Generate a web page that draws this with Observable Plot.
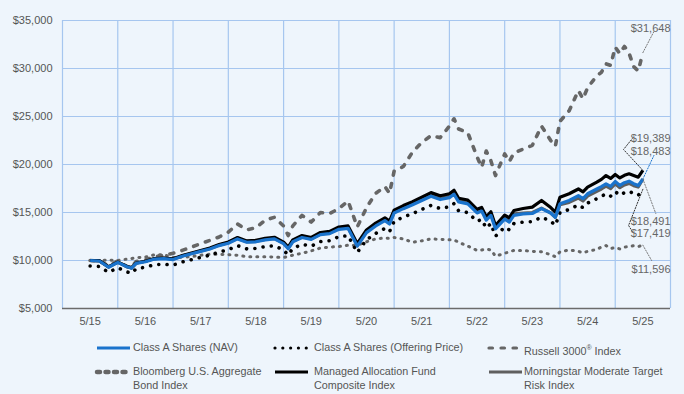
<!DOCTYPE html>
<html>
<head>
<meta charset="utf-8">
<script src="https://cdn.jsdelivr.net/npm/d3@7"></script>
<script src="https://cdn.jsdelivr.net/npm/@observablehq/plot@0.6"></script>
<style>
  html, body { margin: 0; padding: 0; background: #eef5fc; }
  body { width: 684px; height: 394px; overflow: hidden; font-family: "Liberation Sans", Arial, sans-serif; }
  #chart { position: relative; width: 684px; }
  #legend { position: relative; width: 684px; height: 58px; color: #555; font-size: 10.8px; }
  .item { position: absolute; line-height: 13.5px; }
  .sw { position: absolute; }
</style>
</head>
<body>
<div id="chart"></div>
<div id="legend"></div>
<script>
// ---- Data ----
const dates = ["2015-05","2015-07","2015-09","2015-11","2016-01","2016-02","2016-03","2016-05","2016-07","2016-09","2016-11","2017-01","2017-03","2017-05","2017-07","2017-09","2017-11","2018-01","2018-03","2018-05","2018-07","2018-09","2018-11","2018-12","2019-01","2019-03","2019-05","2019-07","2019-09","2019-11","2020-01","2020-03","2020-05","2020-07","2020-09","2020-10","2020-11","2021-01","2021-03","2021-05","2021-07","2021-09","2021-11","2021-12","2022-01","2022-03","2022-05","2022-06","2022-07","2022-08","2022-09","2022-11","2022-12","2023-01","2023-03","2023-05","2023-07","2023-09","2023-10","2023-11","2024-01","2024-03","2024-04","2024-05","2024-07","2024-08","2024-09","2024-10","2024-11","2024-12","2025-01","2025-02","2025-03","2025-04","2025-05"];

const classANav = [10000,9950,9300,9800,9350,9200,9700,9870,10150,10200,10100,10450,10700,10950,11200,11550,11800,12250,11900,11950,12150,12250,11750,11220,11950,12400,12200,12700,12800,13250,13350,11500,12900,13600,14150,13800,14950,15400,15800,16250,16700,16350,16550,16900,16100,15900,14950,15150,14200,14700,13300,14300,14000,14700,14850,14900,15400,14950,14500,15900,16250,16750,16450,16950,17450,17700,17990,17730,18230,17820,18100,18260,18000,17810,18483];

const classAOffer = [9425,9378,8765,9237,8812,8671,9142,9302,9566,9614,9519,9849,10085,10320,10556,10886,11122,11546,11216,11263,11451,11546,11074,10575,11263,11687,11499,11970,12064,12488,12582,10839,12158,12818,13336,13007,14090,14515,14892,15316,15740,15410,15598,15928,15174,14986,14090,14279,13384,13855,12535,13478,13195,13855,13996,14043,14515,14090,13666,14986,15316,15787,15504,15975,16447,16682,16956,16710,17182,16795,17059,17210,16965,16786,17419];

const russell3000 = [10000,9950,9450,9950,9350,9300,9900,10050,10400,10550,10750,11050,11400,11750,12100,12450,12950,13800,13200,13400,14200,14500,13600,12600,13600,14700,14000,15000,14900,15400,16200,13500,15500,17000,17700,17000,19300,19800,21300,22300,23000,22800,24000,24760,23700,23300,20800,19700,21400,20400,18850,21100,20300,21200,21600,22000,24000,22500,21900,24500,25600,27700,26840,28000,29240,29600,30490,30320,32220,31550,32300,31600,30200,29750,31648];

const bloombergAgg = [10000,10000,10050,10000,10150,10200,10300,10350,10600,10600,10300,10350,10400,10550,10650,10650,10600,10550,10400,10400,10400,10350,10300,10450,10550,10750,11000,11300,11400,11450,11600,11600,11950,12250,12350,12300,12400,12250,11900,12050,12250,12200,12150,12150,11900,11500,11050,11100,11200,11100,10450,10750,10900,11050,11050,10950,10900,10600,10400,10900,11100,10950,10800,10950,11150,11400,11550,11250,11350,11200,11400,11450,11550,11450,11596];

const managedComposite = [10000,9980,9330,9830,9380,9230,9740,9920,10200,10260,10170,10520,10780,11050,11310,11670,11930,12390,12040,12100,12310,12420,11920,11400,12140,12600,12400,12920,13030,13490,13600,11750,13180,13890,14440,14100,15250,15720,16130,16600,17070,16740,16950,17320,16480,16300,15330,15530,14560,15080,13650,14720,14450,15210,15420,15560,16250,15520,15030,16600,16950,17450,17150,17650,18160,18450,18850,18550,18960,18600,18870,19030,18850,18680,19389];

const morningstarMod = [10000,9960,9350,9830,9400,9260,9740,9920,10200,10250,10130,10480,10730,10990,11240,11600,11850,12300,11950,12000,12200,12300,11800,11300,12000,12450,12260,12760,12870,13320,13420,11600,13000,13700,14250,13900,15050,15500,15900,16350,16800,16470,16680,17030,16280,16100,15150,15350,14400,14900,13500,14500,14200,14850,14950,15000,15450,14950,14500,15800,16050,16500,16200,16700,17200,17450,17750,17500,17980,17580,17870,18030,17800,17650,18491];

const xTickDates = ["2015-05","2016-05","2017-05","2018-05","2019-05","2020-05","2021-05","2022-05","2023-05","2024-05","2025-05"];
const xTickLabels = ["5/15","5/16","5/17","5/18","5/19","5/20","5/21","5/22","5/23","5/24","5/25"];
const yTicks = [5000,10000,15000,20000,25000,30000,35000];

// ---- Helpers ----
const monthIdx = s => { const [y, m] = s.split("-").map(Number); return (y - 2015) * 12 + (m - 5); };
const mx = dates.map(monthIdx);
const toRows = vals => vals.map((v, i) => ({m: mx[i], v}));
const tickMonths = xTickDates.map(monthIdx);
const gridMonths = d3.range(0, 12).map(k => tickMonths[0] - 6 + 12 * k);
const fmt = d3.format(",");

const blue = "#1a73cc", gray = "#666666", black = "#000000", grid = "#a6c6ef";

const series = {
  russell: {vals: russell3000, stroke: gray, w: 3.6, dash: "4 8.5", cap: "round"},
  bloom: {vals: bloombergAgg, stroke: gray, w: 3, dash: "1 6", cap: "round"},
  offer: {vals: classAOffer, stroke: black, w: 3.6, dash: "0.01 8.3", cap: "round"},
  morning: {vals: morningstarMod, stroke: "#5f5f5f", w: 3.2, dash: null, cap: "butt"},
  managed: {vals: managedComposite, stroke: black, w: 3.2, dash: null, cap: "butt"},
  nav: {vals: classANav, stroke: blue, w: 3.2, dash: null, cap: "butt"}
};
const order = ["russell", "bloom", "offer", "morning", "managed", "nav"];

const lineMarks = order.map(k => {
  const s = series[k];
  const o = {x: "m", y: "v", stroke: s.stroke, strokeWidth: s.w, strokeLinejoin: "round", strokeLinecap: s.cap};
  if (s.dash) o.strokeDasharray = s.dash;
  return Plot.line(toRows(s.vals), o);
});

// callout layout (label placement, in data units)
const last = a => a[a.length - 1];
const callouts = [
  {vals: russell3000, color: "#777", ty: 34150, path: [[122.4, 33850]]},
  {vals: managedComposite, color: "#333", ty: 22750, path: [[115.8, 21560], [117.7, 22700]]},
  {vals: classANav, color: blue, ty: 21350, path: [[122.4, 20940]]},
  {vals: morningstarMod, color: "#777", ty: 14020, path: [[122.8, 14900]]},
  {vals: classAOffer, color: "#333", ty: 12830, path: [[116.9, 13650], [117.8, 12950]]},
  {vals: bloombergAgg, color: "#777", ty: 9060, path: [[121.9, 10000]]}
];
const calloutMarks = [];
callouts.forEach(c => {
  const pts = [[120, last(c.vals)], ...c.path].map(([m, v]) => ({m, v}));
  calloutMarks.push(Plot.line(pts, {x: "m", y: "v", stroke: c.color, strokeWidth: 1, strokeDasharray: "1.2 1.6"}));
});
calloutMarks.push(Plot.text(callouts, {
  x: () => 126, y: "ty", text: c => "$" + fmt(last(c.vals)),
  textAnchor: "end", fill: "#666", fontSize: 11
}));

const chart = Plot.plot({
  width: 684, height: 336,
  marginLeft: 62, marginRight: 14, marginTop: 20, marginBottom: 28,
  style: {background: "transparent", fontFamily: "'Liberation Sans', Arial, sans-serif", fontSize: "11px", color: "#555", overflow: "visible"},
  x: {domain: [-6, 126], ticks: tickMonths, tickFormat: d => xTickLabels[tickMonths.indexOf(d)], tickSize: 0, tickPadding: 9, label: null},
  y: {domain: [5000, 35000], ticks: yTicks, tickFormat: d => "$" + fmt(d), tickSize: 0, tickPadding: 10, label: null},
  marks: [
    Plot.ruleX(gridMonths, {stroke: grid, strokeWidth: 1.2}),
    Plot.ruleY(yTicks.slice(1), {stroke: grid, strokeWidth: 1.2}),
    ...lineMarks,
    Plot.ruleY([5000], {stroke: "#6b6b6b", strokeWidth: 1.5}),
    ...calloutMarks
  ]
});
document.getElementById("chart").appendChild(chart);

// ---- Legend ----
const legendItems = [
  {key: "nav", label: "Class A Shares (NAV)", sx: 96, tx: 133, row: 0},
  {key: "offer", label: "Class A Shares (Offering Price)", sx: 274, tx: 314, row: 0},
  {key: "russell", label: "Russell 3000<sup style='font-size:7px'>®</sup> Index", sx: 488, tx: 524, row: 0},
  {key: "bloom", label: "Bloomberg U.S. Aggregate<br>Bond Index", sx: 96, tx: 133, row: 1},
  {key: "managed", label: "Managed Allocation Fund<br>Composite Index", sx: 274, tx: 314, row: 1},
  {key: "morning", label: "Morningstar Moderate Target<br>Risk Index", sx: 488, tx: 524, row: 1}
];
const legend = document.getElementById("legend");
legendItems.forEach(it => {
  const s = series[it.key];
  const cy = it.row === 0 ? 12 : 36;
  const svg = d3.create("svg").attr("class", "sw").attr("width", 40).attr("height", 10)
    .style("left", (it.sx - 2) + "px").style("top", (cy - 5) + "px");
  const ln = svg.append("line").attr("x1", 3).attr("x2", 36).attr("y1", 5).attr("y2", 5)
    .attr("stroke", s.stroke).attr("stroke-width", s.w - 0.4).attr("stroke-linecap", s.cap);
  if (s.dash) ln.attr("stroke-dasharray", it.key === "offer" ? "0.01 7.8" : it.key === "bloom" ? "3 5.5" : "3.5 8.5");
  if (it.key === "bloom") ln.attr("stroke-width", 4.5);
  legend.appendChild(svg.node());
  const div = document.createElement("div");
  div.className = "item";
  div.style.left = it.tx + "px";
  div.style.top = (cy - 7) + "px";
  div.innerHTML = it.label;
  legend.appendChild(div);
});
</script>
</body>
</html>
